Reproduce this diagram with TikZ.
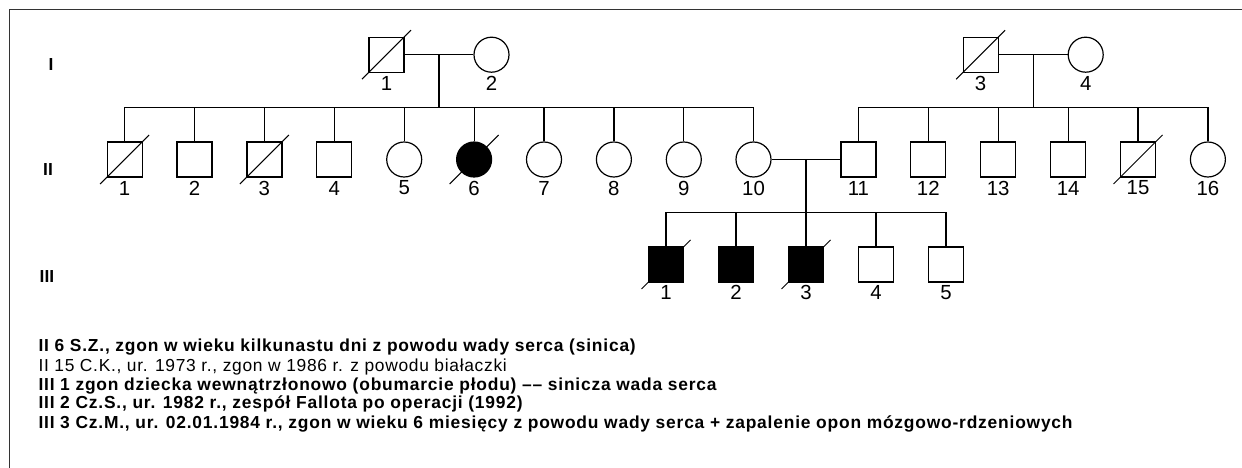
\documentclass[tikz,border=0pt]{standalone}
\usepackage{fontspec}
\setmainfont{Liberation Sans}
\newfontfamily\legfont{Liberation Sans}[FakeStretch=1.0,LetterSpace=4]
\newfontfamily\legbfont{Liberation Sans Bold}[FakeStretch=1.0,LetterSpace=4.6]
\newfontfamily\numfont{Liberation Sans}
\usetikzlibrary{calc}
\begin{document}
\begin{tikzpicture}[x=1pt,y=-1pt,
  conn/.style={line width=1.2pt},
  sq/.style={draw,rectangle,minimum width=35pt,minimum height=35pt,inner sep=0pt,line width=1.2pt},
  ci/.style={draw,circle,minimum size=35pt,inner sep=0pt,line width=1.2pt},
  aff/.style={fill=black},
  slash/.style={line width=1pt},
  num/.style={font=\numfont\fontsize{20.4}{22}\selectfont,inner sep=0pt},
  gen/.style={font=\bfseries\fontsize{17.4}{19}\selectfont,inner sep=0pt},
  leg/.style={font=\legfont\fontsize{17.4}{19}\selectfont,anchor=base west,inner sep=0pt},
  legb/.style={leg,font=\legbfont\fontsize{17.4}{19}\selectfont},
]
\useasboundingbox (0,0) rectangle (1242,468);
\draw[line width=1.5pt,black!80] (1242,9.5) -- (9.5,9.5) -- (9.5,468);

% generation I
\node[sq] (I1) at (386.5,54.7) {};
\node[ci] (I2) at (491.5,54.7) {};
\node[sq] (I3) at (980.6,54.7) {};
\node[ci] (I4) at (1085.7,54.7) {};

% generation II
\node[sq] (II1) at (124.6,159.5) {};
\node[sq] (II2) at (194.5,159.5) {};
\node[sq] (II3) at (264.4,159.5) {};
\node[sq] (II4) at (334.3,159.5) {};
\node[ci] (II5) at (404.2,159.5) {};
\node[ci,aff] (II6) at (474.1,159.5) {};
\node[ci] (II7) at (544.0,159.5) {};
\node[ci] (II8) at (613.9,159.5) {};
\node[ci] (II9) at (683.8,159.5) {};
\node[ci] (II10) at (753.5,159.5) {};
\node[sq] (II11) at (858.4,159.5) {};
\node[sq] (II12) at (928.3,159.5) {};
\node[sq] (II13) at (998.2,159.5) {};
\node[sq] (II14) at (1068.1,159.5) {};
\node[sq] (II15) at (1138.0,159.5) {};
\node[ci] (II16) at (1207.9,159.5) {};

% generation III
\node[sq,aff] (III1) at (666,264.5) {};
\node[sq,aff] (III2) at (736,264.5) {};
\node[sq,aff] (III3) at (806,264.5) {};
\node[sq] (III4) at (876,264.5) {};
\node[sq] (III5) at (946,264.5) {};

% deceased marks
\foreach \n in {I1,I3,II1,II3,II6,II15,III1,III3}
  \draw[slash] (\n.center) ++(-24.5,24.5) -- ++(49,-49);

% family I1 x I2
\draw[conn] (I1.east) -- (I2.west);
\coordinate (mL) at ($(I1.east)!0.5!(I2.west)$);
\path (mL) ++(0,52.6) coordinate (sL);
\draw[conn] (mL) -- (sL);
\draw[conn] (II1.north |- sL) -- (II10.north |- sL);
\foreach \k in {1,...,10} \draw[conn] (II\k.north) -- (II\k.north |- sL);

% family I3 x I4
\draw[conn] (I3.east) -- (I4.west);
\coordinate (mR) at ($(I3.east)!0.5!(I4.west)$);
\path (mR) ++(0,52.6) coordinate (sR);
\draw[conn] (mR) -- (sR);
\draw[conn] (II11.north |- sR) -- (II16.north |- sR);
\foreach \k in {11,...,16} \draw[conn] (II\k.north) -- (II\k.north |- sR);

% family II10 x II11
\draw[conn] (II10.east) -- (II11.west);
\coordinate (mC) at ($(II10.east)!0.5!(II11.west)$);
\path (mC) ++(0,52.8) coordinate (sC);
\draw[conn] (mC) -- (sC);
\draw[conn] (III1.north |- sC) -- (III5.north |- sC);
\foreach \k in {1,...,5} \draw[conn] (III\k.north) -- (III\k.north |- sC);

% numbers
\node[num] (nI1) at ($(I1)+(0,28.6)$) {1};
\node[num] (nI2) at ($(I2)+(0,28.6)$) {2};
\node[num] (nI3) at ($(I3)+(0,28.6)$) {3};
\node[num] (nI4) at ($(I4)+(0,28.6)$) {4};
\foreach \k in {1,...,16} \node[num] (nII\k) at ($(II\k)+(0,28.5)$) {\k};
\foreach \k in {1,...,5} \node[num] (nIII\k) at ($(III\k)+(0,28.2)$) {\k};

% generation labels
\node[gen] (gI) at (51,65) {I};
\node[gen] (gII) at (48,170) {II};
\node[gen] (gIII) at (47,277) {III};

% legend
\node[legb] (t1) at (38.3,351.7) {II 6 S.Z., zgon w wieku kilkunastu dni z powodu wady serca (sinica)};
\node[leg]  (t2) at (38.3,371) {II 15 C.K., ur. 1973 r., zgon w 1986 r. z powodu białaczki};
\node[legb] (t3) at (38.3,390) {III 1 zgon dziecka wewnątrzłonowo (obumarcie płodu) –– sinicza wada serca};
\node[legb] (t4) at (38.3,408.7) {III 2 Cz.S., ur. 1982 r., zespół Fallota po operacji (1992)};
\node[legb] (t5) at (38.3,428) {III 3 Cz.M., ur. 02.01.1984 r., zgon w wieku 6 miesięcy z powodu wady serca + zapalenie opon mózgowo-rdzeniowych};
\end{tikzpicture}
\end{document}
